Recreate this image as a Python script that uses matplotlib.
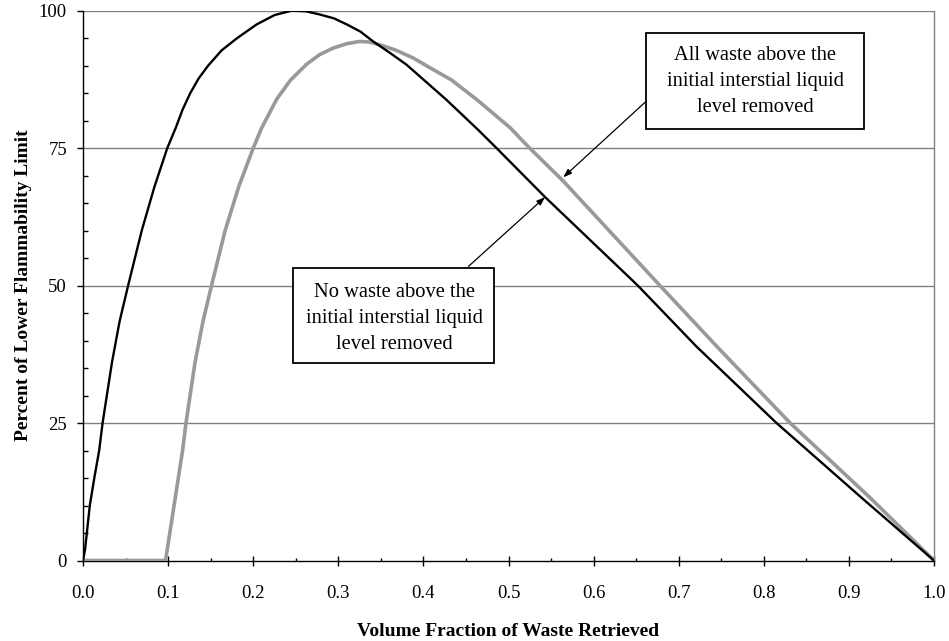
import matplotlib
matplotlib.use("Agg")
import matplotlib.pyplot as plt
from matplotlib.patches import Rectangle
from matplotlib.ticker import MultipleLocator, FormatStrFormatter

# Data
black_x = [0.0, 0.0024, 0.008, 0.0135, 0.019, 0.023, 0.034, 0.043, 0.053, 0.069, 0.084,
           0.099, 0.109, 0.117, 0.126, 0.136, 0.147, 0.163, 0.181, 0.204, 0.225, 0.245,
           0.262, 0.2785, 0.295, 0.31, 0.326, 0.341, 0.36, 0.380, 0.405, 0.427, 0.4645,
           0.486, 0.543, 0.652, 0.721, 0.815, 0.915, 1.0]
black_y = [0, 2, 10, 15.2, 20, 25, 36, 43.5, 50, 60, 68,
           75, 78.7, 82, 85, 87.7, 90, 92.8, 95, 97.5, 99.2, 100,
           99.9, 99.3, 98.6, 97.5, 96.2, 94.4, 92.4, 90.2, 86.8, 83.8, 78.3,
           75, 66.1, 50, 38.9, 25, 11.4, 0]

gray_x = [0.0, 0.097, 0.117, 0.121, 0.1316, 0.141, 0.151, 0.167, 0.183, 0.2, 0.21, 0.228,
          0.244, 0.263, 0.278, 0.294, 0.31, 0.325, 0.337, 0.349, 0.368, 0.388, 0.408,
          0.433, 0.463, 0.502, 0.523, 0.5644, 0.678, 0.745, 0.831, 0.925, 1.0]
gray_y = [0, 0, 20, 25, 36, 43.5, 50, 60, 68, 75, 78.7, 84.0,
          87.4, 90.3, 92.0, 93.2, 94.0, 94.4, 94.3, 93.8, 92.8, 91.4, 89.6,
          87.4, 83.8, 78.7, 75.3, 69.0, 50, 38.9, 25, 11.4, 0]

label_all = "All waste above the\ninitial interstial liquid\nlevel removed"
label_none = "No waste above the\ninitial interstial liquid\nlevel removed"
xlabel = "Volume Fraction of Waste Retrieved"
ylabel = "Percent of Lower Flammability Limit"

plt.rcParams['font.family'] = ['Liberation Serif', 'DejaVu Serif']

W, H = 949, 641
fig = plt.figure(figsize=(W / 100, H / 100), dpi=100)
L, R, T, B = 83, 934, 10.7, 560.5
ax = fig.add_axes([L / W, 1 - B / H, (R - L) / W, (B - T) / H])

ax.set_xlim(0, 1)
ax.set_ylim(0, 100)

for yv in [25, 50, 75, 100]:
    ax.axhline(yv, color='#808080', lw=1.0, zorder=1)

ax.plot(gray_x, gray_y, color='#999999', lw=2.6, zorder=3, solid_joinstyle='round')
ax.plot(black_x, black_y, color='black', lw=1.7, zorder=4, solid_joinstyle='round')

ax.xaxis.set_major_locator(MultipleLocator(0.1))
ax.xaxis.set_minor_locator(MultipleLocator(0.05))
ax.xaxis.set_major_formatter(FormatStrFormatter('%.1f'))
ax.yaxis.set_major_locator(MultipleLocator(25))
ax.yaxis.set_minor_locator(MultipleLocator(5))

ax.tick_params(axis='x', which='major', direction='inout', length=7, width=1,
               pad=14, labelsize=13.5)
ax.tick_params(axis='x', which='minor', direction='in', length=2.5, width=1)
ax.tick_params(axis='y', which='major', direction='out', length=4.5, width=1,
               pad=7, labelsize=13.5)
ax.tick_params(axis='y', which='minor', direction='in', length=3.5, width=1)

ax.spines['left'].set_color('black')
ax.spines['bottom'].set_color('black')
ax.spines['right'].set_color('#808080')
ax.spines['top'].set_visible(False)
for s in ax.spines.values():
    s.set_linewidth(1.0)

ax.set_xlabel(xlabel, fontsize=14, fontweight='bold', labelpad=15)
ax.set_ylabel(ylabel, fontsize=14, fontweight='bold', labelpad=5)

# annotation boxes
box1 = Rectangle((0.6616, 78.5), 0.9177 - 0.6616, 95.9 - 78.5, facecolor='white',
                 edgecolor='black', lw=1.3, zorder=6)
box2 = Rectangle((0.2471, 36.0), 0.4833 - 0.2471, 53.2 - 36.0, facecolor='white',
                 edgecolor='black', lw=1.3, zorder=6)
ax.add_patch(box1)
ax.add_patch(box2)
ax.text(0.7897, 87.1, label_all, ha='center', va='center', fontsize=14.8,
        linespacing=1.5, zorder=7)
ax.text(0.3655, 44.1, label_none, ha='center', va='center', fontsize=14.8,
        linespacing=1.5, zorder=7)

arrow_kw = dict(arrowstyle='-|>,head_length=0.5,head_width=0.18', color='black', lw=0.9,
                shrinkA=0, shrinkB=0)
ax.annotate('', xy=(0.5644, 69.7), xytext=(0.6616, 83.5), arrowprops=arrow_kw, zorder=5)
ax.annotate('', xy=(0.543, 66.1), xytext=(0.453, 53.5), arrowprops=arrow_kw, zorder=5)

fig.savefig('out.png', dpi=100)
